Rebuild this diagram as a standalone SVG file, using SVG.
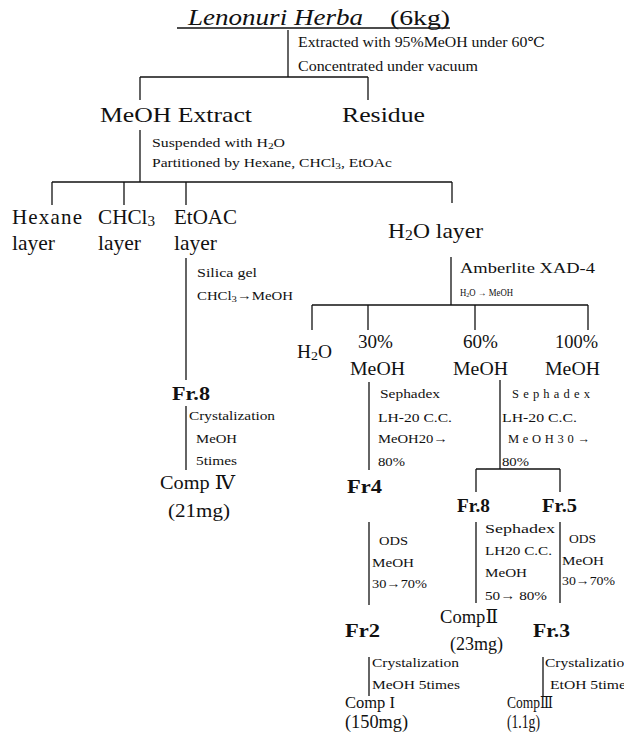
<svg xmlns="http://www.w3.org/2000/svg" width="624" height="747" viewBox="0 0 624 747">
<style>
text{font-family:"Liberation Serif","DejaVu Serif","Noto Sans CJK KR",serif;fill:#111}
.t{font-size:24px;font-style:italic}
.L{font-size:21px}
.M{font-size:18px}
.C{font-size:17px}
.B{font-size:18px;font-weight:bold}
.s{font-size:12.5px}
.x{font-size:10px}
.e{font-size:14px}
line{stroke:#111;stroke-width:1.3}
</style>
<g id="connectors">
<line x1="177" y1="28" x2="450" y2="28"/>
<line x1="288" y1="30" x2="288" y2="77"/>
<line x1="140" y1="77" x2="368" y2="77"/>
<line x1="140" y1="77" x2="140" y2="100"/>
<line x1="368" y1="77" x2="368" y2="100"/>
<line x1="140" y1="130" x2="140" y2="182"/>
<line x1="52" y1="182" x2="452" y2="182"/>
<line x1="52" y1="182" x2="52" y2="205"/>
<line x1="124" y1="182" x2="124" y2="205"/>
<line x1="186" y1="182" x2="186" y2="205"/>
<line x1="452" y1="182" x2="452" y2="203"/>
<line x1="186" y1="258" x2="186" y2="380"/>
<line x1="451" y1="257" x2="451" y2="305"/>
<line x1="312" y1="305" x2="588" y2="305"/>
<line x1="312" y1="305" x2="312" y2="330"/>
<line x1="368" y1="305" x2="368" y2="330"/>
<line x1="475" y1="305" x2="475" y2="330"/>
<line x1="588" y1="305" x2="588" y2="330"/>
<line x1="369" y1="382" x2="369" y2="470"/>
<line x1="500" y1="380" x2="500" y2="469"/>
<line x1="476" y1="469" x2="560" y2="469"/>
<line x1="476" y1="469" x2="476" y2="492"/>
<line x1="560" y1="469" x2="560" y2="492"/>
<line x1="186" y1="406" x2="186" y2="470"/>
<line x1="369" y1="522" x2="369" y2="605"/>
<line x1="476" y1="522" x2="476" y2="603"/>
<line x1="560" y1="522" x2="560" y2="603"/>
<line x1="369" y1="657" x2="369" y2="696"/>
<line x1="543" y1="657" x2="543" y2="696"/>
</g>
<g id="labels">
<text class="e" x="298" y="47" textLength="247" lengthAdjust="spacingAndGlyphs">Extracted with 95%MeOH under 60℃</text>
<text class="e" x="298" y="71" textLength="180" lengthAdjust="spacingAndGlyphs">Concentrated under vacuum</text>
<text class="s" x="152" y="147" textLength="133" lengthAdjust="spacingAndGlyphs">Suspended with H<tspan font-size="9" dy="2">2</tspan><tspan dy="-2">O</tspan></text>
<text class="s" x="152" y="167" textLength="240" lengthAdjust="spacingAndGlyphs">Partitioned by Hexane, CHCl<tspan font-size="9" dy="2">3</tspan><tspan dy="-2">, EtOAc</tspan></text>
<text class="s" x="197" y="277" textLength="60" lengthAdjust="spacingAndGlyphs">Silica gel</text>
<text class="s" x="197" y="300" textLength="96" lengthAdjust="spacingAndGlyphs">CHCl<tspan font-size="9" dy="2">3</tspan><tspan dy="-2">→MeOH</tspan></text>
<text class="e" x="460" y="273" textLength="135" lengthAdjust="spacingAndGlyphs">Amberlite XAD-4</text>
<text class="x" x="460" y="296" textLength="53" lengthAdjust="spacingAndGlyphs">H<tspan font-size="7" dy="1">2</tspan><tspan dy="-1">O → MeOH</tspan></text>
<text class="s" x="380" y="398" textLength="60" lengthAdjust="spacingAndGlyphs">Sephadex</text>
<text class="s" x="378" y="422" textLength="74" lengthAdjust="spacingAndGlyphs">LH-20 C.C.</text>
<text class="s" x="378" y="443" textLength="70" lengthAdjust="spacingAndGlyphs">MeOH20→</text>
<text class="s" x="378" y="466" textLength="27" lengthAdjust="spacingAndGlyphs">80%</text>
<text class="s" x="512" y="398" textLength="78" lengthAdjust="spacing">Sephadex</text>
<text class="s" x="502" y="422" textLength="75" lengthAdjust="spacingAndGlyphs">LH-20 C.C.</text>
<text class="s" x="508" y="443" textLength="82" lengthAdjust="spacing">MeOH30→</text>
<text class="s" x="502" y="466" textLength="27" lengthAdjust="spacingAndGlyphs">80%</text>
<text class="s" x="189" y="420" textLength="86" lengthAdjust="spacingAndGlyphs">Crystalization</text>
<text class="s" x="196" y="443" textLength="41" lengthAdjust="spacingAndGlyphs">MeOH</text>
<text class="s" x="196" y="465" textLength="41" lengthAdjust="spacingAndGlyphs">5times</text>
<text class="s" x="379" y="545" textLength="29" lengthAdjust="spacingAndGlyphs">ODS</text>
<text class="s" x="372" y="567" textLength="42" lengthAdjust="spacingAndGlyphs">MeOH</text>
<text class="s" x="372" y="588" textLength="55" lengthAdjust="spacingAndGlyphs">30→70%</text>
<text class="s" x="485" y="533" textLength="70" lengthAdjust="spacingAndGlyphs">Sephadex</text>
<text class="s" x="485" y="555" textLength="67" lengthAdjust="spacingAndGlyphs">LH20 C.C.</text>
<text class="s" x="485" y="577" textLength="42" lengthAdjust="spacingAndGlyphs">MeOH</text>
<text class="s" x="485" y="600" textLength="62" lengthAdjust="spacingAndGlyphs">50→ 80%</text>
<text class="s" x="569" y="543" textLength="27" lengthAdjust="spacingAndGlyphs">ODS</text>
<text class="s" x="562" y="565" textLength="42" lengthAdjust="spacingAndGlyphs">MeOH</text>
<text class="s" x="562" y="585" textLength="53" lengthAdjust="spacingAndGlyphs">30→70%</text>
<text class="s" x="372" y="667" textLength="87" lengthAdjust="spacingAndGlyphs">Crystalization</text>
<text class="s" x="372" y="689" textLength="88" lengthAdjust="spacingAndGlyphs">MeOH 5times</text>
<text class="s" x="545" y="667" textLength="87" lengthAdjust="spacingAndGlyphs">Crystalization</text>
<text class="s" x="550" y="689" textLength="82" lengthAdjust="spacingAndGlyphs">EtOH 5times</text>
</g>
<g id="herba">
<text class="t" x="188" y="25" textLength="175" lengthAdjust="spacingAndGlyphs">Lenonuri Herba</text>
<text class="L" x="390" y="25" font-size="24" textLength="60" lengthAdjust="spacingAndGlyphs">(6kg)</text>
</g>
<g id="meoh-extract"><text class="L" x="100" y="122" textLength="152" lengthAdjust="spacingAndGlyphs">MeOH Extract</text></g>
<g id="residue"><text class="L" x="342" y="122" textLength="83" lengthAdjust="spacingAndGlyphs">Residue</text></g>
<g id="hexane"><text class="L" x="12" y="224" font-size="20" textLength="70" lengthAdjust="spacing">Hexane</text><text class="L" x="12" y="250" font-size="20" textLength="43" lengthAdjust="spacingAndGlyphs">layer</text></g>
<g id="chcl3"><text class="L" x="98" y="224" font-size="20" textLength="57" lengthAdjust="spacingAndGlyphs">CHCl<tspan font-size="15" dy="2">3</tspan></text><text class="L" x="98" y="250" font-size="20" textLength="43" lengthAdjust="spacingAndGlyphs">layer</text></g>
<g id="etoac"><text class="L" x="174" y="224" font-size="20" textLength="63" lengthAdjust="spacingAndGlyphs">EtOAC</text><text class="L" x="174" y="250" font-size="20" textLength="43" lengthAdjust="spacingAndGlyphs">layer</text></g>
<g id="h2o-layer"><text class="L" x="388" y="238" font-size="20" textLength="95" lengthAdjust="spacingAndGlyphs">H<tspan font-size="14" dy="2">2</tspan><tspan dy="-2">O layer</tspan></text></g>
<g id="h2o-frac"><text class="M" x="297" y="358" textLength="35" lengthAdjust="spacingAndGlyphs">H<tspan font-size="13" dy="2">2</tspan><tspan dy="-2">O</tspan></text></g>
<g id="meoh30"><text class="M" x="358" y="348" textLength="35" lengthAdjust="spacingAndGlyphs">30%</text><text class="M" x="350" y="375" textLength="55" lengthAdjust="spacingAndGlyphs">MeOH</text></g>
<g id="meoh60"><text class="M" x="463" y="348" textLength="35" lengthAdjust="spacingAndGlyphs">60%</text><text class="M" x="453" y="375" textLength="55" lengthAdjust="spacingAndGlyphs">MeOH</text></g>
<g id="meoh100"><text class="M" x="555" y="348" textLength="43" lengthAdjust="spacingAndGlyphs">100%</text><text class="M" x="545" y="375" textLength="55" lengthAdjust="spacingAndGlyphs">MeOH</text></g>
<g id="fr8-left"><text class="B" x="172" y="400" textLength="38" lengthAdjust="spacingAndGlyphs">Fr.8</text></g>
<g id="comp4"><text class="M" x="160" y="489" textLength="75" lengthAdjust="spacingAndGlyphs">Comp Ⅳ</text><text class="M" x="168" y="517" textLength="62" lengthAdjust="spacingAndGlyphs">(21mg)</text></g>
<g id="fr4"><text class="B" x="347" y="493" textLength="35" lengthAdjust="spacingAndGlyphs">Fr4</text></g>
<g id="fr8"><text class="B" x="457" y="512" textLength="33" lengthAdjust="spacingAndGlyphs">Fr.8</text></g>
<g id="fr5"><text class="B" x="542" y="512" textLength="35" lengthAdjust="spacingAndGlyphs">Fr.5</text></g>
<g id="comp2"><text class="M" x="440" y="623" textLength="58" lengthAdjust="spacingAndGlyphs">CompⅡ</text><text class="M" x="450" y="650" textLength="53" lengthAdjust="spacingAndGlyphs">(23mg)</text></g>
<g id="fr2"><text class="B" x="345" y="637" textLength="35" lengthAdjust="spacingAndGlyphs">Fr2</text></g>
<g id="fr3"><text class="B" x="533" y="637" textLength="37" lengthAdjust="spacingAndGlyphs">Fr.3</text></g>
<g id="comp1"><text class="C" x="345" y="708" textLength="50" lengthAdjust="spacingAndGlyphs">Comp I</text><text class="M" x="345" y="728" textLength="63" lengthAdjust="spacingAndGlyphs">(150mg)</text></g>
<g id="comp3"><text class="C" x="507" y="708" textLength="46" lengthAdjust="spacingAndGlyphs">CompⅢ</text><text class="M" x="507" y="728" textLength="33" lengthAdjust="spacingAndGlyphs">(1.1g)</text></g>
</svg>
